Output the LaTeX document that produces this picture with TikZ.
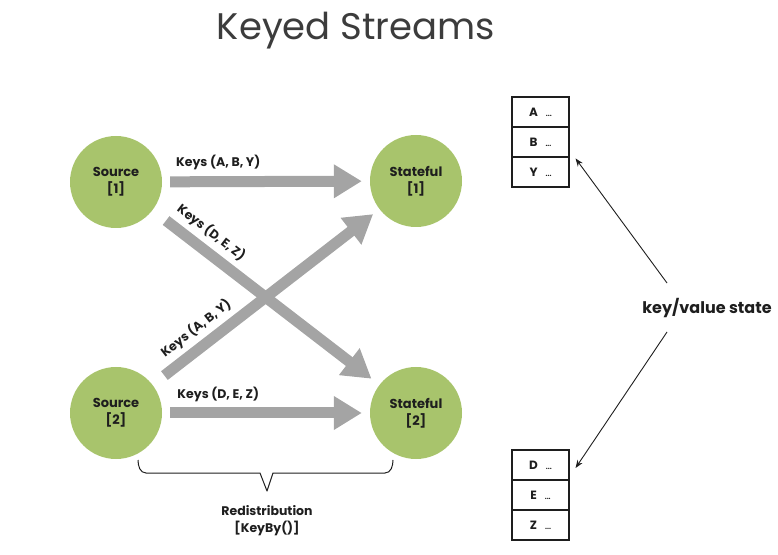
\documentclass[tikz,border=0pt]{standalone}
\usepackage{fontspec}
\setmainfont{Poppins}
\usetikzlibrary{arrows.meta}
\definecolor{leaf}{HTML}{A8C46C}
\definecolor{flow}{HTML}{A4A4A4}
\definecolor{ink}{HTML}{1E1E1E}
\definecolor{titleink}{HTML}{3C3C3C}
\begin{document}
\begin{tikzpicture}[x=1pt,y=1pt,
  op/.style={circle,fill=leaf,minimum size=92pt,inner sep=0pt,align=center,
    font=\fontsize{13}{17}\selectfont\bfseries,text=ink},
  flowarrow/.style={draw=flow,line width=11pt,-{Triangle[length=28pt,width=32pt]}},
  keylabel/.style={font=\fontsize{12.5}{14}\selectfont\bfseries,text=ink,inner sep=0pt},
  cell/.style={draw=ink,line width=1.1pt,minimum width=57pt,minimum height=30pt,inner sep=0pt,
    font=\fontsize{12}{14}\selectfont\bfseries,text=ink},
  thin/.style={draw=ink,line width=0.9pt,-{Stealth[length=8pt,width=6pt]}}
]
\useasboundingbox (0,0) rectangle (778,554);
\node[font=\fontsize{37}{42}\selectfont,text=titleink] (title) at (356,523) {Keyed Streams};

\node[op] (s1) at (116,372) {Source\\{}[1]};
\node[op] (t1) at (416,373) {Stateful\\{}[1]};
\node[op] (s2) at (116,141) {Source\\{}[2]};
\node[op] (t2) at (416,141) {Stateful\\{}[2]};

\draw[flowarrow,shorten <=8pt,shorten >=8pt] (s1) -- (t1)
  node[keylabel,pos=0.27,yshift=19pt] (l1) {Keys (A, B, Y)};
\draw[flowarrow,shorten <=8pt,shorten >=8pt] (s2) -- (t2)
  node[keylabel,pos=0.27,yshift=19pt] (l2) {Keys (D, E, Z)};
\draw[flowarrow,shorten <=17pt,shorten >=10pt] (s1) -- (t2)
  node[keylabel,pos=0.21,sloped,yshift=18pt] (l3) {Keys (D, E, Z)};
\draw[flowarrow,shorten <=15pt,shorten >=8pt] (s2) -- (t1)
  node[keylabel,pos=0.24,sloped,yshift=18pt] (l4) {Keys (A, B, Y)};

% brace
\draw[ink,line width=1pt,line join=round]
  (138,94) to[out=-90,in=180] (146,81) -- (260,81) -- (267,63) -- (273,81) -- (385,81)
  to[out=0,in=-90] (393,94);
\node[keylabel,align=center,font=\fontsize{12.5}{17}\selectfont\bfseries] (redis) at (267,33)
  {Redistribution\\{}[KeyBy()]};

% state tables
\node[cell] (ca) at (540.5,442) {A\hspace{8pt}{\scriptsize...}};
\node[cell] (cb) at (540.5,412) {B\hspace{8pt}{\scriptsize...}};
\node[cell] (cy) at (540.5,382) {Y\hspace{8pt}{\scriptsize...}};
\node[cell] (cd) at (540.5,89) {D\hspace{8pt}{\scriptsize...}};
\node[cell] (ce) at (540.5,59) {E\hspace{8pt}{\scriptsize...}};
\node[cell] (cz) at (540.5,29) {Z\hspace{8pt}{\scriptsize...}};

\node[font=\fontsize{16}{19}\selectfont\bfseries,text=ink] (kv) at (707,246) {key/value state};
\coordinate (up) at (667,271);
\coordinate (dn) at (667,222);
\draw[thin] (up) -- ([shift={(6pt,-2pt)}]cy.north east);
\draw[thin] (dn) -- ([shift={(6pt,-3pt)}]cd.east);
\end{tikzpicture}
\end{document}
